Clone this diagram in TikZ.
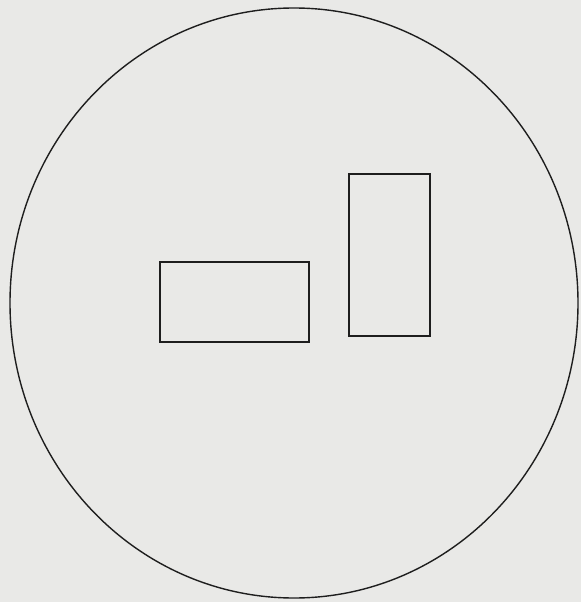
\documentclass[tikz,border=0pt]{standalone}
\usepackage{xcolor}
\definecolor{paper}{HTML}{E9E9E7}
\definecolor{ink}{HTML}{1E1E1E}
\begin{document}
\begin{tikzpicture}[x=1pt,y=-1pt,
  outline/.style={draw=ink,line width=1.4pt},
  box/.style={draw=ink,line width=2.6pt}]
\fill[paper] (0,0) rectangle (581,602);
\useasboundingbox (0,0) rectangle (581,602);
\draw[outline] (294,303) ellipse [x radius=284, y radius=295];
\draw[box] (160,262) rectangle (309,342);
\draw[box] (349,174) rectangle (430,336);
\end{tikzpicture}
\end{document}
